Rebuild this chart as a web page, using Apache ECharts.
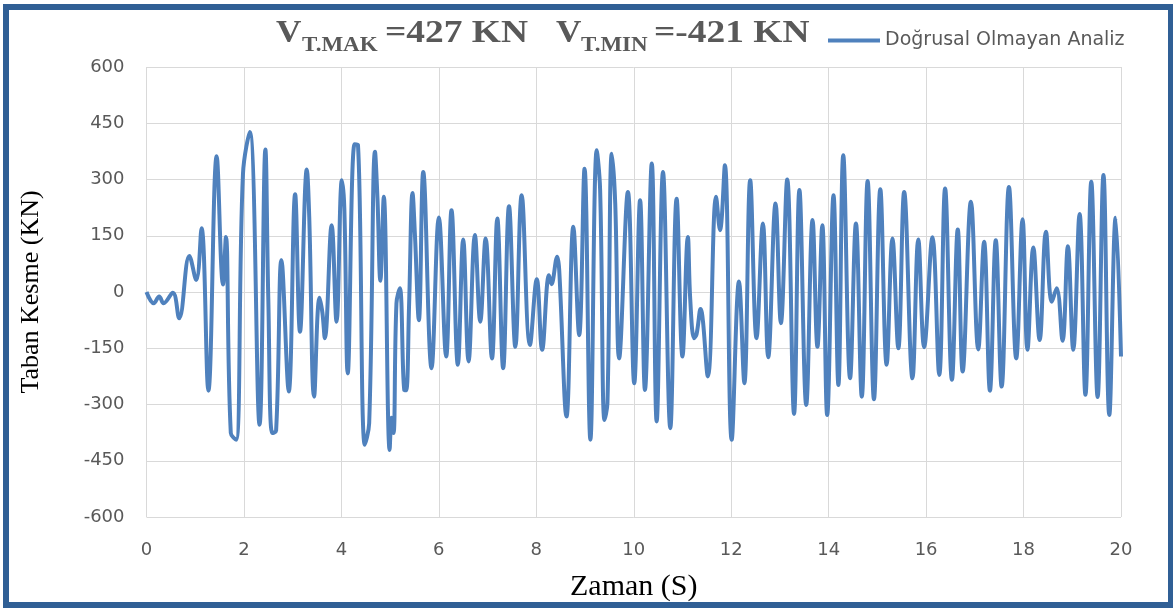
<!DOCTYPE html>
<html>
<head>
<meta charset="utf-8">
<script src="https://cdn.jsdelivr.net/npm/echarts@6/dist/echarts.min.js"></script>
<style>
  html, body { margin: 0; padding: 0; background: #ffffff; }
  #chart { width: 1173px; height: 611px; }
</style>
</head>
<body>
<div id="chart"></div>
<script>
// Base shear time history (time in s, shear in kN), peaks/troughs of the record
const times = [
  0.00, 0.15, 0.26, 0.35, 0.54, 0.67, 0.88, 1.02, 1.13, 1.27,
  1.44, 1.57, 1.63, 1.73, 1.84, 1.98, 2.12, 2.32, 2.44, 2.50,
  2.58, 2.66, 2.77, 2.92, 3.05, 3.15, 3.29, 3.34, 3.44, 3.55,
  3.61, 3.66, 3.80, 3.90, 4.01, 4.06, 4.13, 4.27, 4.34, 4.48,
  4.57, 4.69, 4.74, 4.80, 4.87, 4.99, 5.03, 5.07, 5.13, 5.20,
  5.29, 5.33, 5.39, 5.46, 5.51, 5.59, 5.68, 5.85, 6.00, 6.15,
  6.26, 6.39, 6.50, 6.61, 6.74, 6.85, 6.96, 7.09, 7.20, 7.32,
  7.44, 7.57, 7.70, 7.87, 8.01, 8.12, 8.26, 8.31, 8.43, 8.47,
  8.62, 8.76, 8.88, 8.99, 9.11, 9.24, 9.31, 9.40, 9.46, 9.55,
  9.62, 9.70, 9.88, 10.01, 10.13, 10.23, 10.37, 10.47, 10.60, 10.75,
  10.88, 11.00, 11.11, 11.16, 11.24, 11.29, 11.37, 11.52, 11.69, 11.77,
  11.87, 12.01, 12.16, 12.27, 12.39, 12.52, 12.65, 12.76, 12.91, 13.02,
  13.15, 13.29, 13.40, 13.54, 13.67, 13.77, 13.87, 13.97, 14.10, 14.20,
  14.30, 14.44, 14.56, 14.68, 14.80, 14.93, 15.06, 15.19, 15.31, 15.43,
  15.55, 15.72, 15.84, 15.96, 16.13, 16.27, 16.39, 16.53, 16.65, 16.75,
  16.92, 17.07, 17.19, 17.31, 17.43, 17.55, 17.70, 17.85, 17.98, 18.08,
  18.20, 18.33, 18.46, 18.58, 18.68, 18.80, 18.91, 19.02, 19.15, 19.27,
  19.39, 19.52, 19.64, 19.76, 19.89, 20.00
];
const baseShear = [
  0, -30, -12, -30, -2, -70, 96, 32, 170, -263,
  362, 20, 147, -376, -394, 315, 427, -354, 380, -20,
  -376, -370, 85, -265, 261, -106, 327, 200, -279, -15,
  -55, -123, 178, -79, 298, 223, -217, 394, 392, -407,
  -350, 374, 250, 30, 254, -421, -335, -376, -30, 10,
  -261, -262, -30, 264, 150, -75, 320, -203, 199, -172,
  218, -194, 140, -185, 152, -79, 143, -177, 196, -203,
  229, -146, 258, -141, 34, -154, 45, 21, 94, 59,
  -332, 174, -115, 329, -394, 378, 272, -341, -296, 369,
  236, -177, 267, -243, 245, -261, 343, -345, 320, -363,
  249, -172, 147, -21, -123, -112, -45, -225, 254, 165,
  338, -394, 28, -243, 298, -123, 183, -174, 236, -83,
  300, -325, 272, -301, 192, -146, 178, -328, 258, -248,
  365, -230, 183, -279, 296, -286, 274, -194, 143, -150,
  267, -230, 140, -147, 146, -221, 276, -234, 167, -212,
  241, -153, 134, -263, 138, -252, 280, -177, 194, -154,
  119, -128, 161, -26, 10, -130, 122, -154, 208, -274,
  294, -280, 312, -328, 198, -172
];
const seriesName = 'Doğrusal Olmayan Analiz';
const xTitle = 'Zaman (S)';
const yTitle = 'Taban Kesme (KN)';
const maxLabel = '=427 KN';
const minLabel = '=-421 KN';

const points = times.map((t, i) => [t, baseShear[i]]);

const chart = echarts.init(document.getElementById('chart'), null, { renderer: 'canvas' });

const gray = '#595959';
const gridColor = '#D9D9D9';
const lineColor = '#4F81BD';
const serif = '"Liberation Serif", "Times New Roman", serif';
const sans = '"DejaVu Sans", "Open Sans", sans-serif';

// Bold serif heading pieces, slightly widened
function titleText(text, left, bottom, size, sx) {
  return {
    type: 'text',
    x: left, y: bottom,
    scaleX: sx, scaleY: 1,
    silent: true,
    style: {
      text: text,
      fill: gray,
      font: 'bold ' + size + 'px ' + serif,
      textAlign: 'left',
      textVerticalAlign: 'bottom'
    }
  };
}

chart.setOption({
  animation: false,
  backgroundColor: '#ffffff',
  grid: { left: 146.5, right: 52, top: 67, bottom: 94, containLabel: false },
  legend: {
    data: [{ name: seriesName, icon: 'rect' }],
    left: 823, top: 26,
    itemWidth: 52, itemHeight: 4,
    textStyle: { color: gray, fontSize: 19, fontFamily: sans }
  },
  xAxis: {
    type: 'value', min: 0, max: 20, interval: 2,
    name: xTitle, nameLocation: 'middle', nameGap: 55,
    nameTextStyle: { color: '#000000', fontSize: 30, fontFamily: serif },
    axisLine: { show: false }, axisTick: { show: false },
    axisLabel: { color: gray, fontSize: 18, fontFamily: sans, margin: 24 },
    splitLine: { show: true, lineStyle: { color: gridColor, width: 1 } }
  },
  yAxis: {
    type: 'value', min: -600, max: 600, interval: 150,
    name: yTitle, nameLocation: 'middle', nameGap: 102, nameRotate: 90,
    nameTextStyle: { color: '#000000', fontSize: 26, fontFamily: serif },
    axisLine: { show: false }, axisTick: { show: false },
    axisLabel: { color: gray, fontSize: 18, fontFamily: sans, margin: 22 },
    splitLine: { show: true, lineStyle: { color: gridColor, width: 1 } }
  },
  series: [{
    name: seriesName,
    type: 'line',
    data: points,
    smooth: 0.4,
    symbol: 'none',
    lineStyle: { color: lineColor, width: 4 },
    itemStyle: { color: lineColor }
  }],
  graphic: [
    {
      type: 'rect',
      silent: true,
      shape: { x: 6, y: 7, width: 1165, height: 598 },
      style: { fill: 'none', stroke: '#305F95', lineWidth: 6 }
    },
    titleText('V', 276, 50, 32, 1.1),
    titleText('T.MAK', 302, 56, 20, 1.15),
    titleText(maxLabel, 385, 50, 32, 1.17),
    titleText('V', 556, 50, 32, 1.1),
    titleText('T.MIN', 581, 56, 20, 1.15),
    titleText(minLabel, 654, 50, 32, 1.17)
  ]
});
</script>
</body>
</html>
